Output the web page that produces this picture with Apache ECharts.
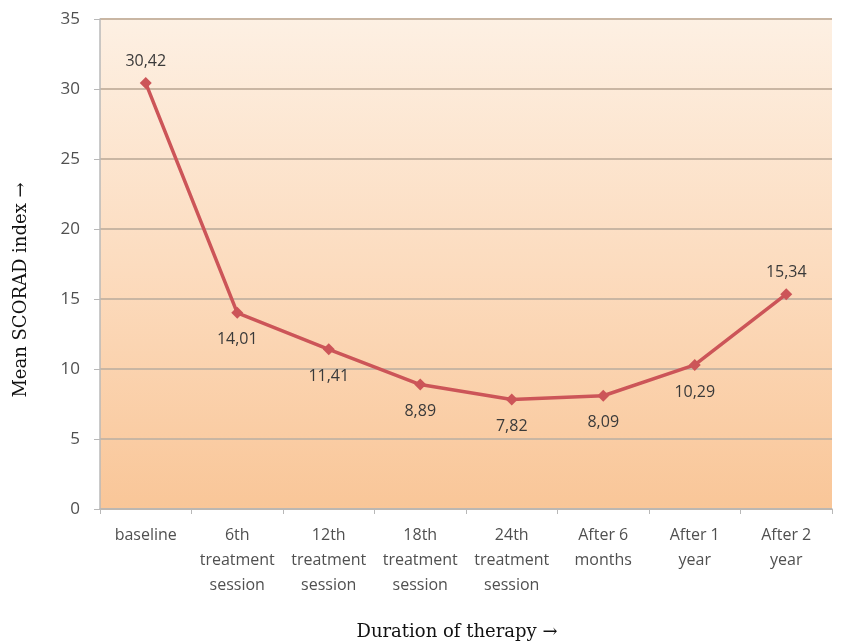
<!DOCTYPE html>
<html>
<head>
<meta charset="utf-8">
<script src="https://cdn.jsdelivr.net/npm/echarts@6/dist/echarts.min.js"></script>
<style>html,body{margin:0;padding:0;background:#fff}#c{width:845px;height:642px}</style>
</head>
<body>
<div id="c"></div>
<script>
var categories = ['baseline', '6th\ntreatment\nsession', '12th\ntreatment\nsession', '18th\ntreatment\nsession', '24th\ntreatment\nsession', 'After 6\nmonths', 'After 1\nyear', 'After 2\nyear'];
var scoradValues = [30.42, 14.01, 11.41, 8.89, 7.82, 8.09, 10.29, 15.34];
var labelAbove = [true, false, false, false, false, false, false, true];
var yTicks = [0, 5, 10, 15, 20, 25, 30, 35];

var chart = echarts.init(document.getElementById('c'));
var seriesData = scoradValues.map(function (v, i) {
  return {
    value: v,
    label: {
      position: labelAbove[i] ? 'top' : 'bottom',
      distance: labelAbove[i] ? 8 : 13
    }
  };
});
chart.setOption({
  animation: false,
  grid: {
    left: 100, right: 13, top: 19, bottom: 133,
    show: true,
    borderWidth: 0,
    backgroundColor: {
      type: 'linear', x: 0, y: 0, x2: 0, y2: 1,
      colorStops: [
        { offset: 0, color: '#fdf0e3' },
        { offset: 0.5, color: '#fcdcbf' },
        { offset: 1, color: '#f9c698' }
      ]
    }
  },
  xAxis: {
    type: 'category',
    data: categories,
    boundaryGap: true,
    axisLine: { lineStyle: { color: '#b8b8b8', width: 1.5 } },
    axisTick: { show: true, length: 5, lineStyle: { color: '#b8b8b8' } },
    axisLabel: {
      interval: 0,
      color: '#505050',
      fontFamily: 'Open Sans',
      fontSize: 16,
      lineHeight: 25,
      margin: 14
    }
  },
  yAxis: {
    type: 'value',
    min: yTicks[0],
    max: yTicks[yTicks.length - 1],
    interval: 5,
    axisLine: { show: true, lineStyle: { color: '#b8b8b8', width: 1.5 } },
    axisTick: { show: true, length: 6, lineStyle: { color: '#b8b8b8' } },
    axisLabel: {
      color: '#505050',
      fontFamily: 'Open Sans',
      fontSize: 17,
      margin: 20
    },
    splitLine: { show: true, lineStyle: { color: '#c9b6a3', width: 2 } }
  },
  series: [{
    type: 'line',
    data: seriesData,
    symbol: 'diamond',
    symbolSize: 12,
    lineStyle: { color: '#cc5558', width: 3.5 },
    itemStyle: { color: '#cc5558' },
    label: {
      show: true,
      color: '#3a3a3a',
      fontFamily: 'Open Sans',
      fontSize: 16,
      formatter: function (p) { return p.value.toFixed(2).replace('.', ','); }
    }
  }],
  graphic: [
    {
      type: 'text',
      x: 21, y: 290,
      rotation: Math.PI / 2,
      style: {
        text: 'Mean SCORAD index \u2192',
        fontFamily: 'DejaVu Serif',
        fontSize: 18,
        fill: '#111',
        align: 'center',
        verticalAlign: 'middle'
      }
    },
    {
      type: 'text',
      x: 457, y: 632,
      style: {
        text: 'Duration of therapy \u2192',
        fontFamily: 'DejaVu Serif',
        fontSize: 18,
        fill: '#111',
        align: 'center',
        verticalAlign: 'middle'
      }
    }
  ]
});
</script>
</body>
</html>
